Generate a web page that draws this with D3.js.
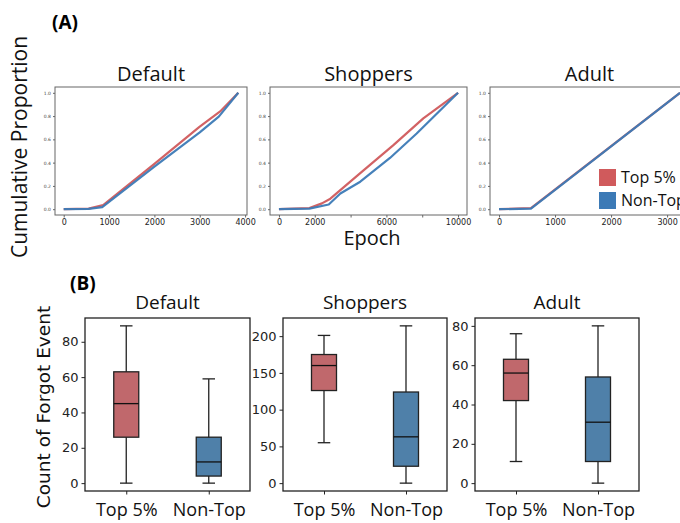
<!DOCTYPE html>
<html>
<head>
<meta charset="UTF-8">
<title>forgetting events</title>
<style>
    body { margin: 0; background: #fff; }
    svg { display: block; }
    .cal { font-family: "Open Sans", "Noto Sans", sans-serif; }
    .mpl { font-family: "DejaVu Sans", sans-serif; }
</style>
<script src="https://cdn.jsdelivr.net/npm/d3@7"></script>
</head>
<body>
<svg id="fig" width="680" height="523"></svg>
<script>
// (A) cumulative proportion curves: [epoch, proportion]
var datasets = ["Default", "Shoppers", "Adult"];
var seriesNames = ["Top 5%", "Non-Top"];

var defaultTop = [[0, 0], [550, 0.005], [870, 0.035], [2000, 0.39], [3000, 0.71], [3450, 0.84], [3850, 1.0]];
var defaultNon = [[0, 0], [550, 0.003], [850, 0.018], [2000, 0.365], [3000, 0.66], [3420, 0.795], [3850, 1.0]];
var shoppersTop = [[0, 0], [1700, 0.01], [2400, 0.05], [2870, 0.09], [4540, 0.31], [6390, 0.55], [8060, 0.78], [10000, 1.0]];
var shoppersNon = [[0, 0], [1700, 0.005], [2780, 0.04], [3430, 0.135], [4540, 0.236], [6200, 0.44], [7690, 0.65], [10000, 1.0]];
var adultTop = [[0, 0], [570, 0.01], [3230, 1.0]];
var adultNon = [[0, 0], [570, 0.004], [3230, 1.0]];

var curveTicks = [[0, 1000, 2000, 3000, 4000], [0, 2000, 4000, 6000, 8000, 10000], [0, 1000, 2000, 3000]];
var curveTickLabels = [["0", "1000", "2000", "3000", "4000"], ["0", "2000", "", "6000", "", "10000"], ["0", "1000", "2000", "3000"]];
var propTicks = [0, 0.2, 0.4, 0.6, 0.8, 1.0];

// (B) box plots: [whiskerLow, q1, median, q3, whiskerHigh]
var defaultBoxes = [[0, 26, 45, 63, 89], [0, 4, 12, 26, 59]];
var shoppersBoxes = [[55, 126, 160, 175, 201], [0, 23, 63, 124, 214]];
var adultBoxes = [[11, 42, 56, 63, 76], [0, 11, 31, 54, 80]];
var countTicks = [[0, 20, 40, 60, 80], [0, 50, 100, 150, 200], [0, 20, 40, 60, 80]];

var lineColors = ["#d05a5c", "#3c7ab6"];
var boxColors = ["#c0686c", "#4f80a9"];

var svg = d3.select("#fig");

// ---------- panel A ----------
svg.append("text").attr("class", "cal").attr("x", 52).attr("y", 29)
    .attr("font-size", 19).attr("font-weight", "bold").text("(A)");

svg.append("text").attr("class", "cal")
    .attr("transform", "translate(27,147) rotate(-90)")
    .attr("text-anchor", "middle").attr("font-size", 21).attr("fill", "#111")
    .text("Cumulative Proportion");

svg.append("text").attr("class", "cal").attr("x", 372).attr("y", 245)
    .attr("text-anchor", "middle").attr("font-size", 20).attr("fill", "#111").text("Epoch");

var curves = [[defaultTop, defaultNon], [shoppersTop, shoppersNon], [adultTop, adultNon]];
var curveFrames = [
    {left: 55, right: 247, xmin: -192, xmax: 4042},
    {left: 270, right: 467, xmin: -500, xmax: 10500},
    {left: 490, right: 689, xmin: -161, xmax: 3391}
];

curveFrames.forEach(function (f, i) {
    var top = 87, bottom = 215;
    var x = d3.scaleLinear().domain([f.xmin, f.xmax]).range([f.left, f.right]);
    var y = d3.scaleLinear().domain([-0.05, 1.05]).range([bottom, top]);
    var g = svg.append("g");

    g.append("text").attr("class", "cal").attr("x", (f.left + f.right) / 2).attr("y", 81)
        .attr("text-anchor", "middle").attr("font-size", 20).attr("fill", "#111").text(datasets[i]);

    var line = d3.line().x(function (d) { return x(d[0]); }).y(function (d) { return y(d[1]); });
    curves[i].forEach(function (s, k) {
        g.append("path").datum(s).attr("d", line).attr("fill", "none")
            .attr("stroke", lineColors[k]).attr("stroke-width", 2.2)
            .attr("stroke-linejoin", "round").attr("opacity", 0.95);
    });

    g.append("rect").attr("x", f.left).attr("y", top)
        .attr("width", f.right - f.left).attr("height", bottom - top)
        .attr("fill", "none").attr("stroke", "#666").attr("stroke-width", 1);

    var xa = g.append("g").attr("transform", "translate(0," + bottom + ")")
        .call(d3.axisBottom(x).tickValues(curveTicks[i]).tickSize(2.5).tickPadding(2)
            .tickFormat(function (d, j) { return curveTickLabels[i][j]; }));
    xa.select(".domain").remove();
    xa.selectAll("line").attr("stroke", "#666");
    xa.selectAll("text").attr("class", "mpl").attr("font-size", 8).attr("fill", "#222");

    var ya = g.append("g").attr("transform", "translate(" + f.left + ",0)")
        .call(d3.axisLeft(y).tickValues(propTicks).tickSize(2).tickPadding(2).tickFormat(d3.format(".1f")));
    ya.select(".domain").remove();
    ya.selectAll("line").attr("stroke", "#666");
    ya.selectAll("text").attr("class", "mpl").attr("font-size", 4.5).attr("fill", "#444");
});

// legend
seriesNames.forEach(function (n, k) {
    var ly = 169 + k * 23;
    svg.append("rect").attr("x", 599).attr("y", ly).attr("width", 17).attr("height", 17)
        .attr("fill", lineColors[k]);
    svg.append("text").attr("class", "cal").attr("x", 621).attr("y", ly + 14)
        .attr("font-size", 16).attr("fill", "#111").text(n);
});

// ---------- panel B ----------
svg.append("text").attr("class", "cal").attr("x", 70).attr("y", 290)
    .attr("font-size", 19).attr("font-weight", "bold").text("(B)");

svg.append("text").attr("class", "mpl")
    .attr("transform", "translate(50,407) rotate(-90)")
    .attr("text-anchor", "middle").attr("font-size", 18.5).attr("fill", "#111")
    .text("Count of Forgot Event");

var boxes = [defaultBoxes, shoppersBoxes, adultBoxes];
var boxFrames = [
    {left: 85, right: 250, ymax: 89},
    {left: 283, right: 447, ymax: 214},
    {left: 475, right: 639, ymax: 80}
];

boxFrames.forEach(function (f, i) {
    var top = 318, bottom = 491;
    var pad = f.ymax * 0.05;
    var y = d3.scaleLinear().domain([-pad, f.ymax + pad]).range([bottom, top]);
    var x = d3.scalePoint().domain(seriesNames).range([f.left, f.right]).padding(0.5);
    var bw = 25;
    var g = svg.append("g");

    g.append("text").attr("class", "cal").attr("x", (f.left + f.right) / 2).attr("y", 309)
        .attr("text-anchor", "middle").attr("font-size", 19).attr("fill", "#111").text(datasets[i]);

    boxes[i].forEach(function (b, k) {
        var cx = x(seriesNames[k]);
        g.append("line").attr("x1", cx).attr("x2", cx).attr("y1", y(b[0])).attr("y2", y(b[4]))
            .attr("stroke", "#222").attr("stroke-width", 1.3);
        [b[0], b[4]].forEach(function (v) {
            g.append("line").attr("x1", cx - bw / 4).attr("x2", cx + bw / 4)
                .attr("y1", y(v)).attr("y2", y(v)).attr("stroke", "#222").attr("stroke-width", 1.3);
        });
        g.append("rect").attr("x", cx - bw / 2).attr("y", y(b[3]))
            .attr("width", bw).attr("height", y(b[1]) - y(b[3]))
            .attr("fill", boxColors[k]).attr("stroke", "#222").attr("stroke-width", 1.3);
        g.append("line").attr("x1", cx - bw / 2).attr("x2", cx + bw / 2)
            .attr("y1", y(b[2])).attr("y2", y(b[2])).attr("stroke", "#111").attr("stroke-width", 1.3);
    });

    g.append("rect").attr("x", f.left).attr("y", top)
        .attr("width", f.right - f.left).attr("height", bottom - top)
        .attr("fill", "none").attr("stroke", "#222").attr("stroke-width", 1.3);

    var xa = g.append("g").attr("transform", "translate(0," + bottom + ")")
        .call(d3.axisBottom(x).tickSize(3.5).tickPadding(9));
    xa.select(".domain").remove();
    xa.selectAll("line").attr("stroke", "#222");
    xa.selectAll("text").attr("class", "cal").attr("font-size", 18).attr("fill", "#111");

    var ya = g.append("g").attr("transform", "translate(" + f.left + ",0)")
        .call(d3.axisLeft(y).tickValues(countTicks[i]).tickSize(3.5).tickPadding(3));
    ya.select(".domain").remove();
    ya.selectAll("line").attr("stroke", "#222");
    ya.selectAll("text").attr("class", "mpl").attr("font-size", 13).attr("fill", "#222");
});
</script>
</body>
</html>
